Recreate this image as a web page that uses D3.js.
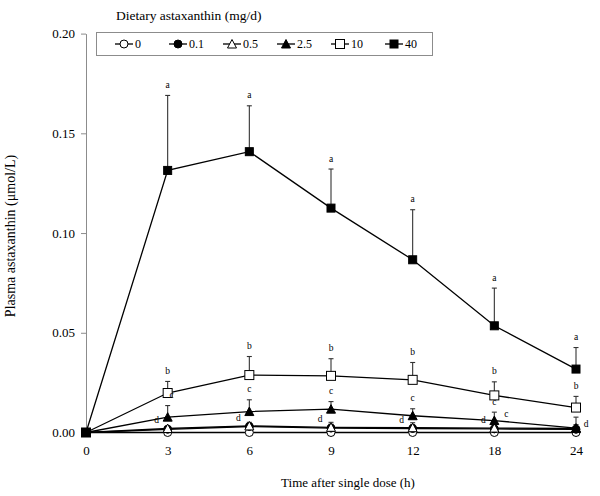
<!DOCTYPE html>
<html><head><meta charset="utf-8">
<script src="https://cdn.jsdelivr.net/npm/d3@7"></script>
<style>body{margin:0;background:#fff}svg{display:block}</style>
</head><body><svg id="c" width="600" height="496" font-family="Liberation Serif, Times New Roman, DejaVu Serif, serif"></svg>
<script>
const times = ["0","3","6","9","12","18","24"];
const yTicks = [0, 0.05, 0.10, 0.15, 0.20];
const doses = ["0","0.1","0.5","2.5","10","40"];
const markers = ["circleOpen","circleFilled","triangleOpen","triangleFilled","squareOpen","squareFilled"];
const mean0   = [0,0,0,0,0,0,0];
const mean01  = [0,0.0016,0.0030,0.0022,0.0020,0.0018,0.0016];
const mean05  = [0,0.0020,0.0033,0.0026,0.0024,0.0022,0.0020];
const mean25  = [0,0.0077,0.0105,0.0117,0.0084,0.0060,0.0022];
const mean10  = [0,0.0198,0.0288,0.0284,0.0264,0.0186,0.0125];
const mean40  = [0,0.1314,0.1408,0.1125,0.0866,0.0535,0.0318];
const sd0  = [0,0,0,0,0,0,0];
const sd01 = [0,0.0010,0.0015,0.0020,0.0020,0.0020,0.0015];
const sd05 = [0,0.0012,0.0018,0.0025,0.0025,0.0025,0.0020];
const sd25 = [0,0.0058,0.0059,0.0038,0.0035,0.0042,0.0055];
const sd10 = [0,0.0058,0.0093,0.0086,0.0087,0.0068,0.0056];
const sd40 = [0,0.0376,0.0230,0.0196,0.0251,0.0189,0.0108];
const letters0  = ["","","","","","",""];
const letters01 = ["","d","d","d","d","d","d"];
const letters05 = ["","","","","","c",""];
const letters25 = ["","c","c","c","c","c",""];
const letters10 = ["","b","b","b","b","b","b"];
const letters40 = ["","a","a","a","a","a","a"];

const FONT = "Liberation Serif, Times New Roman, DejaVu Serif, serif";
const means = [mean0,mean01,mean05,mean25,mean10,mean40];
const sds = [sd0,sd01,sd05,sd25,sd10,sd40];
const letters = [letters0,letters01,letters05,letters25,letters10,letters40];
const series = doses.map((d,i)=>({dose:d, marker:markers[i], mean:means[i], sd:sds[i], letters:letters[i]}));

const svg = d3.select("#c");
const x = d3.scalePoint().domain(times).range([86,576]);
const y = d3.scaleLinear().domain([0,0.20]).range([432.5,33.6]);

const ya = svg.append("g").attr("transform","translate(86,0)")
  .call(d3.axisLeft(y).tickValues(yTicks).tickFormat(d3.format(".2f")).tickSize(5).tickSizeOuter(0));
ya.attr("font-family",FONT).attr("font-size",13);
ya.select(".domain").attr("stroke","#8c8c8c");
ya.selectAll(".tick line").attr("stroke","#8c8c8c");
ya.selectAll(".tick text").attr("x",-11).attr("fill","#000");

const xa = svg.append("g").attr("transform","translate(0,432.5)")
  .call(d3.axisBottom(x).tickSize(0));
xa.attr("font-family",FONT).attr("font-size",13);
xa.select(".domain").remove();
xa.selectAll(".tick text").attr("dy","1.5em").attr("fill","#000");

svg.append("text").attr("x",348).attr("y",487).attr("text-anchor","middle").attr("font-size",13).attr("font-family",FONT).text("Time after single dose (h)");
svg.append("text").attr("transform","translate(15,236) rotate(-90)").attr("text-anchor","middle").attr("font-size",14).attr("font-family",FONT).text("Plasma astaxanthin (μmol/L)");

function drawMarker(g, type, cx, cy){
  const filled = type.endsWith("Filled");
  const fill = filled ? "#000" : "#fff";
  if(type.startsWith("circle")){
    g.append("circle").attr("cx",cx).attr("cy",cy).attr("r",4).attr("fill",fill).attr("stroke","#000").attr("stroke-width",1);
  } else if(type.startsWith("square")){
    const s = filled ? 8 : 9;
    g.append("rect").attr("x",cx-s/2).attr("y",cy-s/2).attr("width",s).attr("height",s).attr("fill",fill).attr("stroke","#000").attr("stroke-width",1);
  } else {
    const h=8, w=9;
    g.append("path").attr("d",`M${cx},${cy-h/2-0.5}L${cx+w/2},${cy+h/2}L${cx-w/2},${cy+h/2}Z`).attr("fill",fill).attr("stroke","#000").attr("stroke-width",1);
  }
}

const line = d3.line().x((d,i)=>x(times[i])).y(d=>y(d));
const plot = svg.append("g");
series.forEach(s=>{
  s.mean.forEach((m,i)=>{
    if(s.sd[i]<=0) return;
    const xx = x(times[i]);
    plot.append("line").attr("x1",xx).attr("x2",xx).attr("y1",y(m)).attr("y2",y(m+s.sd[i])).attr("stroke","#333").attr("stroke-width",1.1);
    plot.append("line").attr("x1",xx-2.5).attr("x2",xx+2.5).attr("y1",y(m+s.sd[i])).attr("y2",y(m+s.sd[i])).attr("stroke","#333").attr("stroke-width",1.1);
  });
});
series.forEach(s=>{
  plot.append("path").attr("d",line(s.mean)).attr("fill","none").attr("stroke","#000").attr("stroke-width",1.3);
});
series.forEach(s=>{
  s.mean.forEach((m,i)=>drawMarker(plot, s.marker, x(times[i]), y(m)));
});
const ann = svg.append("g").attr("font-family",FONT).attr("font-size",9.5);
series.forEach(s=>{
  s.letters.forEach((L,i)=>{
    if(!L) return;
    const xx = x(times[i]);
    let tx, ty;
    if(s.dose==="0.1"){
      if(i===times.length-1){ tx = xx+10; ty = y(s.mean[i])-5; }
      else { tx = xx-11; ty = y(s.mean[i])-9; }
    } else if(s.dose==="0.5"){
      tx = xx+12; ty = y(s.mean[i])-14;
    } else {
      tx = xx; ty = y(s.mean[i]+s.sd[i])-10.5;
      if(s.dose==="2.5" && i===1) tx = xx+4;
    }
    ann.append("text").attr("x",tx).attr("y",ty).attr("text-anchor","middle").attr("dominant-baseline","central").attr("fill","#000").text(L);
  });
});

svg.append("text").attr("x",116).attr("y",20).attr("font-size",13.5).attr("font-family",FONT).text("Dietary astaxanthin (mg/d)");
svg.append("rect").attr("x",96.5).attr("y",32.5).attr("width",336).attr("height",23).attr("fill","none").attr("stroke","#8c8c8c");
const lg = svg.append("g").attr("font-family",FONT).attr("font-size",12);
series.forEach((s,i)=>{
  const cx = 124 + i*54, cy = 44;
  lg.append("line").attr("x1",cx-9).attr("x2",cx+9).attr("y1",cy).attr("y2",cy).attr("stroke","#000").attr("stroke-width",1.3);
  drawMarker(lg, s.marker, cx, cy);
  lg.append("text").attr("x",cx+11).attr("y",cy).attr("dominant-baseline","central").attr("fill","#000").text(s.dose);
});
</script></body></html>
